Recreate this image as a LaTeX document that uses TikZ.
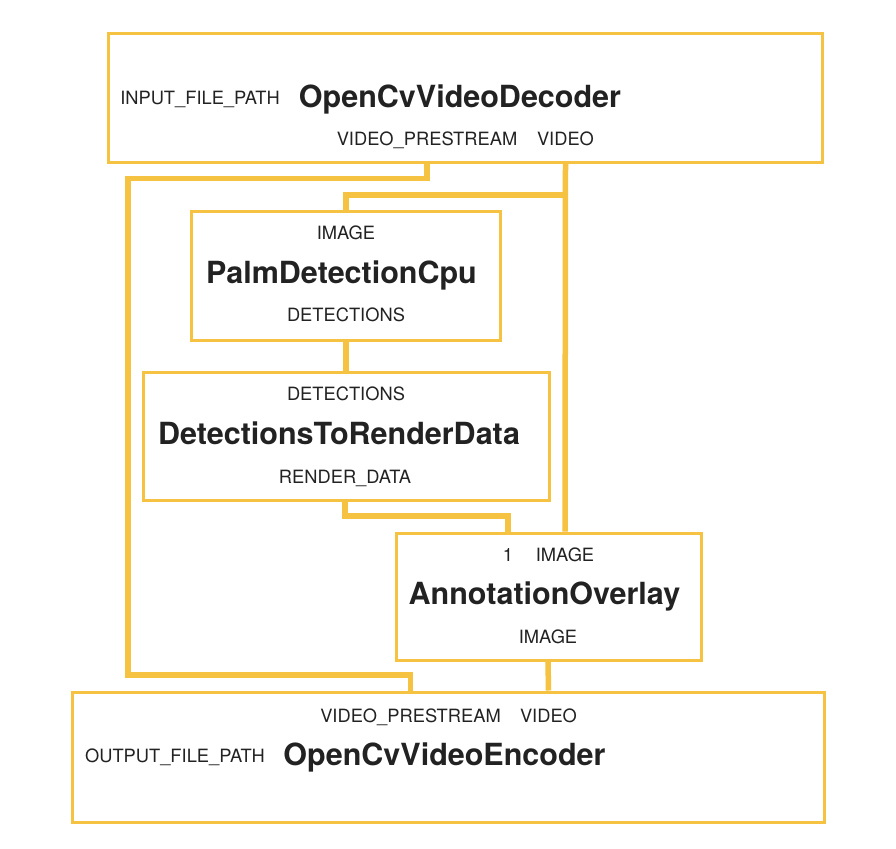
\documentclass[tikz,border=0pt]{standalone}
\usepackage{fontspec}
\setmainfont{TeX Gyre Heros}
\usepackage{tikz}
\definecolor{wire}{RGB}{245,194,66}
\definecolor{ink}{RGB}{34,34,34}

\begin{document}
\begin{tikzpicture}[x=1pt, y=-1pt,
    calc/.style={draw=wire, line width=3pt, minimum width=#1},
    title/.style={text=ink, font=\fontsize{30.5}{30.5}\selectfont\bfseries, inner sep=0pt, text height=22pt, text depth=0pt},
    port/.style={text=ink, font=\fontsize{18.3}{18.3}\selectfont, inner sep=0pt, text height=13.2pt, text depth=0pt},
    stream/.style={draw=wire, line width=5.5pt}]
  \useasboundingbox (0, 0) rectangle (896, 848);
  \node [calc=714pt, minimum height=128pt] (dec) at (465, 98) {};
  \node [calc=309pt, minimum height=129pt] (palm) at (345.5, 275.5) {};
  \node [calc=406pt, minimum height=128pt] (det) at (346, 436) {};
  \node [calc=305pt, minimum height=127pt] (ann) at (548.5, 596.5) {};
  \node [calc=752pt, minimum height=130pt] (enc) at (448, 757) {};

  \node [port] (din) at (200, 98) {INPUT\_FILE\_PATH};
  \node [title] (dname) at (460, 96.5) {OpenCvVideoDecoder};
  \node [port] (dpre) at (427, 138.5) {VIDEO\_PRESTREAM};
  \node [port] (dvid) at (565.5, 138.5) {VIDEO};

  \node [port] (pimg) at (346, 233) {IMAGE};
  \node [title] (pname) at (341.5, 272) {PalmDetectionCpu};
  \node [port] (pdet) at (346, 315) {DETECTIONS};

  \node [port] (ddet) at (346, 393.5) {DETECTIONS};
  \node [title] (dtname) at (339, 433) {DetectionsToRenderData};
  \node [port] (drd) at (345, 476.5) {RENDER\_DATA};

  \node [port] (aone) at (508, 554.5) {1};
  \node [port] (aimg) at (565, 554.5) {IMAGE};
  \node [title] (aname) at (544.5, 593) {AnnotationOverlay};
  \node [port] (aout) at (548, 636.5) {IMAGE};

  \node [port] (epre) at (410.5, 715.5) {VIDEO\_PRESTREAM};
  \node [port] (evid) at (548.5, 715.5) {VIDEO};
  \node [port] (eout) at (175, 756) {OUTPUT\_FILE\_PATH};
  \node [title] (ename) at (444.5, 754.5) {OpenCvVideoEncoder};

  \coordinate (railtop) at (128, 178.5);
  \coordinate (railbot) at (128, 675);
  \coordinate (vsplit) at (565.5, 195);
  \coordinate (rdbend) at (345, 516);

  \draw [stream] (dpre |- dec.south) |- (railtop) -- (railbot) -| (epre |- enc.north);
  \draw [stream] (dvid |- dec.south) -- (aimg |- ann.north);
  \draw [stream] (vsplit) -| (pimg |- palm.north);
  \draw [stream] (pdet |- palm.south) -- (ddet |- det.north);
  \draw [stream] (drd |- det.south) |- (rdbend) -| (aone |- ann.north);
  \draw [stream] (aout |- ann.south) -- (evid |- enc.north);
\end{tikzpicture}
\end{document}
